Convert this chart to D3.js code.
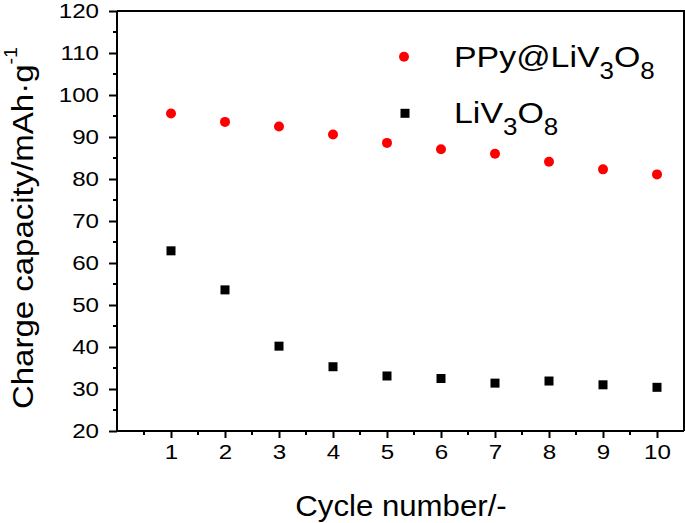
<!DOCTYPE html>
<html><head><meta charset="utf-8">
<script src="https://cdn.jsdelivr.net/npm/d3@7"></script>
<style>
html,body{margin:0;padding:0;background:#fff;}
text{font-family:"Liberation Sans",Arial,sans-serif;fill:#000;}
</style></head>
<body>
<svg id="chart" width="685" height="523"></svg>
<script>
const cycles = [1,2,3,4,5,6,7,8,9,10];
const ppyValues = [95.6, 93.6, 92.5, 90.6, 88.6, 87.1, 86.0, 84.1, 82.3, 81.1];
const livValues = [62.9, 53.6, 40.2, 35.3, 33.1, 32.5, 31.4, 31.9, 31.0, 30.4];
const xTicks = [1,2,3,4,5,6,7,8,9,10];
const yTicks = [20,30,40,50,60,70,80,90,100,110,120];

const svg = d3.select("#chart");
const L = 117, R = 684, T = 11, B = 431;
const x = d3.scaleLinear().domain([0,10.5]).range([L,R]);
const y = d3.scaleLinear().domain([20,120]).range([B,T]);

// frame (top and right)
svg.append("path").attr("d",`M${L},${T}H${R}V${B}`).attr("fill","none").attr("stroke","#000").attr("stroke-width",2);

// minor ticks
const xMinor = d3.range(0.5,10.5,1);
svg.selectAll(".xm").data(xMinor).enter().append("line")
  .attr("x1",d=>x(d)).attr("x2",d=>x(d)).attr("y1",B).attr("y2",B+4)
  .attr("stroke","#000").attr("stroke-width",2);
const yMinor = d3.range(25,120,10);
svg.selectAll(".ym").data(yMinor).enter().append("line")
  .attr("x1",L).attr("x2",L-4).attr("y1",d=>y(d)).attr("y2",d=>y(d))
  .attr("stroke","#000").attr("stroke-width",2);

// axes
const xAxis = d3.axisBottom(x).tickValues(xTicks).tickSize(7).tickPadding(6).tickFormat(d3.format("d"));
const yAxis = d3.axisLeft(y).tickValues(yTicks).tickSize(8).tickPadding(10).tickFormat(d3.format("d"));
const gx = svg.append("g").attr("transform",`translate(0,${B})`).call(xAxis);
const gy = svg.append("g").attr("transform",`translate(${L},0)`).call(yAxis);
[gx,gy].forEach(g=>{
  g.select(".domain").attr("stroke-width",2).attr("d", g===gx ? `M${L},0H${R}` : `M0,${T}V${B}`);
  g.selectAll(".tick line").attr("stroke-width",2);
  g.selectAll(".tick text").attr("font-size",21).attr("font-family","Liberation Sans, Arial, sans-serif").attr("fill","#000");
});
gx.selectAll(".tick text").attr("transform","scale(1.15,1)").attr("x",0);
gy.selectAll(".tick text").attr("transform","scale(1.15,1)").attr("x",-18/1.15);

// data
svg.append("g").selectAll("circle").data(cycles).enter().append("circle")
  .attr("cx",(d)=>x(d)).attr("cy",(d,i)=>y(ppyValues[i])).attr("r",5).attr("fill","#ff0000");
svg.append("g").selectAll("rect").data(cycles).enter().append("rect")
  .attr("x",(d)=>x(d)-4.5).attr("y",(d,i)=>y(livValues[i])-4.5).attr("width",9).attr("height",9).attr("fill","#000");

// legend
svg.append("circle").attr("cx",404).attr("cy",56.7).attr("r",5).attr("fill","#ff0000");
svg.append("rect").attr("x",400.5).attr("y",108.8).attr("width",9).attr("height",9).attr("fill","#000");
function chem(g, parts){
  const t = g.append("text").attr("font-size",30);
  let down = false;
  parts.forEach(p=>{
    const ts = t.append("tspan").text(p.s);
    if(p.sub){ ts.attr("font-size",23).attr("dy",12); down = true; }
    else if(down){ ts.attr("dy",-12); down = false; }
  });
  return t;
}
const lg1 = svg.append("g").attr("transform","translate(454,66.7) scale(1.13,1)");
chem(lg1,[{s:"PPy@LiV"},{s:"3",sub:true},{s:"O"},{s:"8",sub:true}]);
const lg2 = svg.append("g").attr("transform","translate(454,123.4) scale(1.13,1)");
chem(lg2,[{s:"LiV"},{s:"3",sub:true},{s:"O"},{s:"8",sub:true}]);

// axis titles
svg.append("g").attr("transform","translate(401,516) scale(1.04,1)")
  .append("text").attr("text-anchor","middle").attr("font-size",30).text("Cycle number/-");
const yt = svg.append("g").attr("transform","translate(33,228) rotate(-90) scale(1.1,1)")
  .append("text").attr("text-anchor","middle").attr("font-size",30);
yt.append("tspan").text("Charge capacity/mAh\u00b7g");
yt.append("tspan").attr("font-size",18).attr("dy",-16).text("-1");
</script>
</body></html>
